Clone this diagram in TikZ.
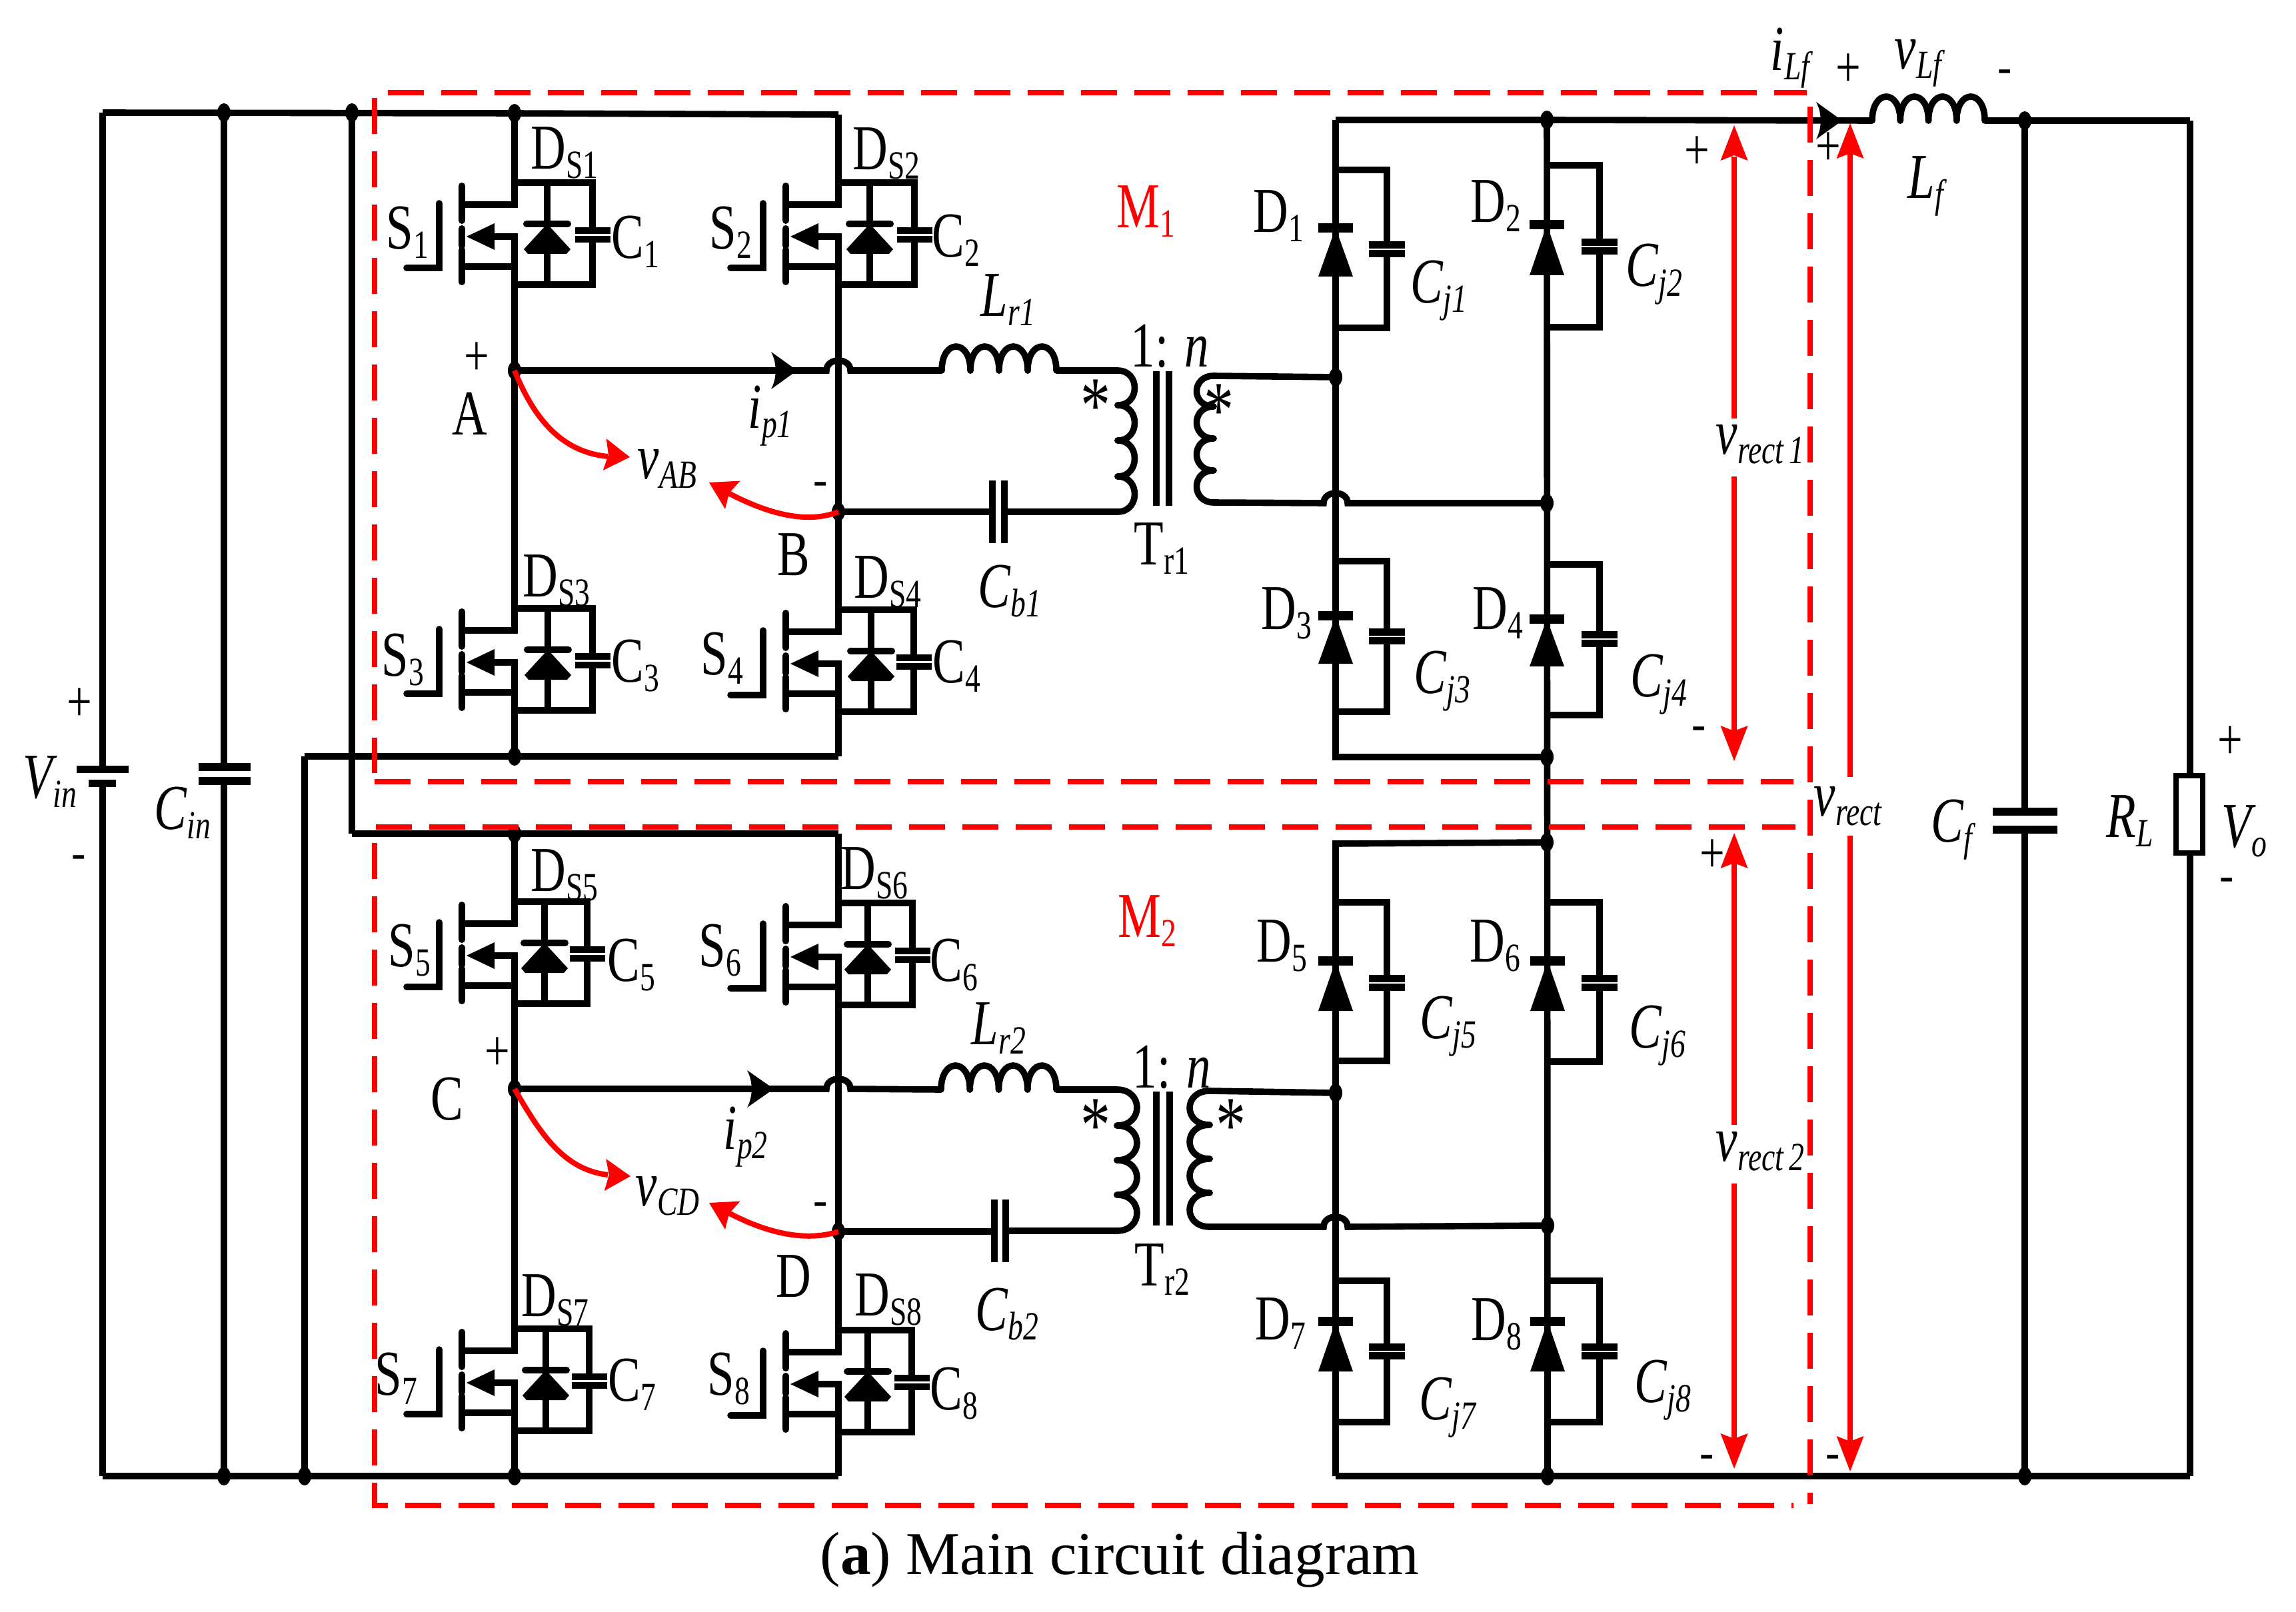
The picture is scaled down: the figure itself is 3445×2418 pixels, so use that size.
\documentclass[tikz,border=0pt]{standalone}
\usepackage{graphicx}
\usepackage{fontspec}
\setmainfont{Liberation Serif}
\usetikzlibrary{shapes.geometric}
\newcommand\RS[2]{\scalebox{.76}[1]{\fontsize{24}{24}\selectfont #1\raisebox{-3.5pt}{\fontsize{15}{15}\selectfont #2}}}
\newcommand\IS[2]{\scalebox{.76}[1]{\fontsize{24}{24}\selectfont\itshape #1\raisebox{-3.5pt}{\fontsize{15}{15}\selectfont #2}}}
\newcommand\PL{\scalebox{.76}[1]{\fontsize{22}{22}\selectfont +}}
\newcommand\MN{{\fontsize{16}{16}\selectfont\bfseries -}}
\newcommand\ST{\scalebox{.75}[1]{\fontsize{30}{30}\selectfont *}}
\tikzset{
  wire/.style={line width=2.4pt,black,line join=miter},
  heavy/.style={line width=2.7pt,black},
  plate/.style={line width=2.6pt,black},
  chan/.style={line width=2.5pt,black,line cap=round},
  core/.style={line width=2.3pt,black},
  coil/.style={line width=2.4pt,black,line cap=round},
  reddash/.style={line width=2pt,red,dash pattern=on 13.5pt off 6.5pt},
  redline/.style={line width=2pt,red},
  lbl/.style={anchor=base west,inner sep=0pt,outer sep=0pt,xshift=-0.8pt},
  sym/.style={anchor=base,inner sep=0pt,outer sep=0pt},
  dot/.style={ellipse,fill=black,draw=none,minimum width=5pt,minimum height=7pt,inner sep=0pt},
}
% MOSFET with body diode and capacitor: drain x, top y, diode dx, cap dx
\newcommand\Sw[4]{%
\begin{scope}[shift={(#1,#2)}]
\draw[wire] (0,0) -- (0,33) -- (-79,33);
\draw[wire] (-30,81) -- (0,81) -- (0,153);
\fill (-72,81) -- (-30,61) -- (-30,101) -- cycle;
\draw[wire] (-79,126) -- (0,126);
\draw[chan] (-79,5) -- (-79,57);
\draw[chan] (-79,69) -- (-79,95);
\draw[chan] (-79,101) -- (-79,149);
\draw[coil] (-162,128) -- (-113,128) -- (-113,31);
\draw[wire] (0,0) -- (#4,0) -- (#4,72);
\draw[wire] (#4,85) -- (#4,153) -- (0,153);
\draw[wire] (#3,0) -- (#3,153);
\draw[chan] ({#3-31},62) -- ({#3+31},62);
\fill (#3,62) -- ({#3+35},100) -- ({#3+29},107) -- ({#3-29},107) -- ({#3-35},100) -- cycle;
\draw[plate] ({#4-26.5},72) -- ({#4+26.5},72);
\draw[plate] ({#4-26.5},85) -- ({#4+26.5},85);
\end{scope}}
% rectifier diode: x, branch top, branch bottom, branch x, bar y, base y, cap y
\newcommand\Rd[7]{%
\draw[wire] (#1,#2) -- (#4,#2) -- (#4,{#7-6});
\draw[wire] (#4,{#7+6}) -- (#4,#3) -- (#1,#3);
\draw[line width=3.7pt] ({#1-26},#5) -- ({#1+26},#5);
\fill (#1,#5) -- ({#1+26},#6) -- ({#1-26},#6) -- cycle;
\draw[plate] ({#4-27},{#7-6.5}) -- ({#4+27},{#7-6.5});
\draw[plate] ({#4-27},{#7+6.5}) -- ({#4+27},{#7+6.5});
}
% inductor: start x, hump width, y
\newcommand\Ind[3]{\foreach \i in {0,1,2,3}
  \draw[coil] ({#1+\i*#2},#3) .. controls ({#1+\i*#2},{#3-48}) and ({#1+(\i+1)*#2},{#3-48}) .. ({#1+(\i+1)*#2},#3);}
% vertical winding: cusp x, bulge control x, five ys
\newcommand\Coil[7]{%
\draw[coil] (#1,#3) .. controls (#2,#3) and (#2,#4) .. (#1,#4);
\draw[coil] (#1,#4) .. controls (#2,#4) and (#2,#5) .. (#1,#5);
\draw[coil] (#1,#5) .. controls (#2,#5) and (#2,#6) .. (#1,#6);
\draw[coil] (#1,#6) .. controls (#2,#6) and (#2,#7) .. (#1,#7);}
% black current arrow: tip x, y, length, half height
\newcommand\Ha[4]{\fill (#1,#2) -- ({#1-#3},{#2-#4}) .. controls ({#1-#3+9},{#2-#4*.4}) and ({#1-#3+9},{#2+#4*.4}) .. ({#1-#3},{#2+#4}) -- cycle;}
% red head: tip x, y, angle, length, half width
\newcommand\RA[5]{\begin{scope}[shift={(#1,#2)},rotate=#3]
\fill[red] (0,0) -- ({-#4},{#5}) -- ({-.85*#4},0) -- ({-#4},{-#5}) -- cycle;
\end{scope}}
\begin{document}
\begin{tikzpicture}[x=0.25pt,y=-0.25pt]
\path[use as bounding box] (0,0) rectangle (3445,2418);
% junction dots
\node[dot] (t1) at (336,169) {};
\node[dot] (t2) at (528,169) {};
\node[dot] (t3) at (772,170) {};
\node[dot] (b1) at (336,2215) {};
\node[dot] (b2) at (457,2215) {};
\node[dot] (b3) at (772,2215) {};
\node[dot] (m1) at (772,1135) {};
\node[dot] (m2) at (772,1251) {};
\node[dot] (A) at (772,556) {};
\node[dot] (B) at (1258,768) {};
\node[dot] (C) at (772,1634) {};
\node[dot] (Dn) at (1258,1848) {};
\node[dot] (r1) at (2321,180) {};
\node[dot] (r2) at (2004,566) {};
\node[dot] (r3) at (2321,755) {};
\node[dot] (r4) at (2321,1136) {};
\node[dot] (r5) at (2321,1264) {};
\node[dot] (r6) at (2004,1640) {};
\node[dot] (r7) at (2322,1839) {};
\node[dot] (r8) at (2322,2215) {};
\node[dot] (o1) at (3038,181) {};
\node[dot] (o2) at (3038,2215) {};
% named corners
\coordinate (tl) at (154,169);
\coordinate (bl) at (154,2215);
\coordinate (tr) at (1258,172);
\coordinate (br) at (1258,2215);
\coordinate (m1r) at (1258,1135);
\coordinate (m2r) at (1258,1251);
\coordinate (m1l) at (457,1135);
\coordinate (m2l) at (528,1251);
\coordinate (rt) at (2004,180);
\coordinate (rb) at (2004,2215);
\coordinate (m1b) at (2004,1136);
\coordinate (m2t) at (2004,1266);
\coordinate (ort) at (3286,181);
\coordinate (orb) at (3286,2215);
% input rails
\draw[heavy] (tl) -- (bl |- 0,1154);
\draw[heavy] (bl |- 0,1175) -- (bl);
\draw[heavy] (t1.center) -- (336,1151);
\draw[heavy] (336,1172) -- (b1.center);
\draw[wire] (tl) -- (t3.center) -- (tr);
\draw[wire] (bl) -- (br);
\draw[heavy] (b2.center) -- (m1l);
\draw[wire] (m1l) -- (m1r);
\draw[heavy] (t2.center) -- (m2l);
\draw[wire] (m2l) -- (m2r);
% battery and Cin plates
\draw[line width=2.75pt] (115,1154) -- (193,1154);
\draw[line width=2.75pt] (133,1175) -- (174,1175);
\draw[line width=3pt] (298,1151) -- (376,1151);
\draw[line width=3pt] (298,1172) -- (376,1172);
% switches
\Sw{772}{274}{49}{117}
\Sw{1258}{274}{47}{114}
\Sw{772}{913}{50}{117}
\Sw{1258}{915}{49}{113}
\Sw{772}{1353}{45}{109}
\Sw{1258}{1355}{44}{111}
\Sw{772}{1994}{47}{112}
\Sw{1258}{1996}{44}{110}
% bridge legs
\draw[wire] (t3.center) -- (772,274);
\draw[wire] (772,427) -- (772,913);
\draw[wire] (772,1066) -- (m1.center);
\draw[wire] (tr) -- (1258,274);
\draw[wire] (1258,427) -- (1258,915);
\draw[wire] (1258,1068) -- (m1r);
\draw[wire] (m2.center) -- (772,1353);
\draw[wire] (772,1506) -- (772,1994);
\draw[wire] (772,2147) -- (b3.center);
\draw[wire] (m2r) -- (1258,1355);
\draw[wire] (1258,1508) -- (1258,1996);
\draw[wire] (1258,2149) -- (br);
% module 1 primary
\draw[wire] (A.center) -- (1240,556) .. controls (1240,536) and (1276,536) .. (1276,556) -- (1413,556);
\Ha{1196}{556}{39}{28}
\Ind{1413}{43}{556}
\draw[wire] (1585,556) -- (1677,556);
\Coil{1677}{1711}{556}{608}{661}{715}{768}
\draw[wire] (B.center) -- (1489,768);
\draw[wire] (1507,768) -- (1677,768);
\draw[core] (1489,721) -- (1489,815);
\draw[core] (1507,721) -- (1507,815);
\draw[core] (1735,557) -- (1735,759);
\draw[core] (1754,557) -- (1754,759);
\Coil{1821}{1787}{564}{610}{658}{706}{754}
\draw[wire] (1821,564) -- (r2.center);
\draw[wire] (1821,754) -- (1986,755) .. controls (1986,735) and (2022,735) .. (2022,755) -- (r3.center);
% module 2 primary
\draw[wire] (C.center) -- (1240,1634) .. controls (1240,1614) and (1276,1614) .. (1276,1634) -- (1412,1635);
\Ha{1161}{1634}{40}{28}
\Ind{1412}{43.25}{1635}
\draw[wire] (1585,1635) -- (1676,1635);
\Coil{1676}{1716}{1635}{1689}{1741}{1793}{1847}
\draw[wire] (Dn.center) -- (1492,1848);
\draw[wire] (1509,1847) -- (1676,1847);
\draw[core] (1492,1800) -- (1492,1894);
\draw[core] (1509,1800) -- (1509,1894);
\draw[core] (1735,1638) -- (1735,1839);
\draw[core] (1755,1638) -- (1755,1839);
\Coil{1815}{1775}{1637}{1688}{1739}{1790}{1841}
\draw[wire] (1815,1637) -- (r6.center);
\draw[wire] (1815,1841) -- (1986,1841) .. controls (1986,1821) and (2022,1821) .. (2022,1841) -- (r7.center);
% rectifier
\draw[wire] (rt) -- (m1b) -- (r4.center);
\draw[wire] (rt) -- (r1.center);
\draw[wire] (r1.center) -- (r8.center);
\draw[wire] (r5.center) -- (m2t) -- (rb);
\Rd{2004}{255}{492}{2081}{342}{415}{374}
\Rd{2321}{248}{491}{2400}{337}{413}{370}
\Rd{2004}{842}{1068}{2081}{924}{996}{955}
\Rd{2321}{847}{1073}{2400}{929}{1000}{959}
\Rd{2004}{1354}{1592}{2081}{1442}{1517}{1475}
\Rd{2322}{1354}{1593}{2400}{1442}{1517}{1475}
\Rd{2004}{1922}{2134}{2081}{1983}{2058}{2028}
\Rd{2322}{1922}{2134}{2400}{1983}{2058}{2028}
% output
\draw[wire] (r1.center) -- (2809,181);
\Ha{2764}{181}{39}{28}
\Ind{2809}{42.25}{181}
\draw[wire] (2978,181) -- (o1.center) -- (ort);
\draw[heavy] (o1.center) -- (3038,1218);
\draw[heavy] (3038,1245) -- (o2.center);
\draw[line width=3pt] (2990,1218) -- (3087,1218);
\draw[line width=3pt] (2990,1245) -- (3087,1245);
\draw[heavy] (ort) -- (3286,1164);
\draw[heavy] (3286,1280) -- (orb);
\draw[line width=1.9pt] (3265,1164) rectangle (3305,1280);
\draw[wire] (rb) -- (r8.center) -- (o2.center) -- (orb);
% red dashed frames
\draw[reddash] (582,139) -- (2711,139);
\draw[reddash] (562,147) -- (562,1160);
\draw[reddash] (562,1173) -- (2691,1173);
\draw[reddash] (564,1241) -- (2694,1241);
\draw[reddash] (562,1265) -- (562,2259) -- (2691,2259);
\draw[reddash] (2716,160) -- (2716,2257);
% red voltage arrows
\draw[redline] (2602,235) -- (2602,628);
\draw[redline] (2602,715) -- (2602,1100);
\RA{2602}{188}{90}{53}{20.5}
\RA{2602}{1142}{-90}{53}{20.5}
\draw[redline] (2602,1295) -- (2602,1688);
\draw[redline] (2602,1776) -- (2602,2160);
\RA{2602}{1250}{90}{53}{20.5}
\RA{2602}{2204}{-90}{53}{20.5}
\draw[redline] (2776,230) -- (2776,1166);
\draw[redline] (2776,1254) -- (2776,2165);
\RA{2776}{185}{90}{53}{20.5}
\RA{2776}{2208}{-90}{53}{20.5}
\draw[redline] (A.center) .. controls (800,625) and (840,678) .. (912,685);
\RA{945}{686}{-6}{38}{24}
\draw[redline] (B.center) .. controls (1215,785) and (1160,775) .. (1093,740);
\RA{1064}{724}{152}{40}{24}
\draw[redline] (C.center) .. controls (810,1700) and (845,1755) .. (912,1763);
\RA{946}{1765}{-3}{38}{24}
\draw[redline] (Dn.center) .. controls (1215,1862) and (1160,1855) .. (1093,1820);
\RA{1064}{1805}{152}{40}{24}
% switch labels
\node[lbl] (lds1) at (800,254) {\RS{D}{S1}};
\node[lbl] (ls1) at (583,374) {\RS{S}{1}};
\node[lbl] (lc1) at (921,388) {\RS{C}{1}};
\node[lbl] (lds2) at (1283,255) {\RS{D}{S2}};
\node[lbl] (ls2) at (1068,374) {\RS{S}{2}};
\node[lbl] (lc2) at (1402,386) {\RS{C}{2}};
\node[lbl] (lds3) at (788,895) {\RS{D}{S3}};
\node[lbl] (ls3) at (576,1014) {\RS{S}{3}};
\node[lbl] (lc3) at (921,1023) {\RS{C}{3}};
\node[lbl] (lds4) at (1285,897) {\RS{D}{S4}};
\node[lbl] (ls4) at (1055,1012) {\RS{S}{4}};
\node[lbl] (lc4) at (1403,1024) {\RS{C}{4}};
\node[lbl] (lds5) at (800,1337) {\RS{D}{S5}};
\node[lbl] (ls5) at (586,1450) {\RS{S}{5}};
\node[lbl] (lc5) at (915,1472) {\RS{C}{5}};
\node[lbl] (lds6) at (1265,1334) {\RS{D}{S6}};
\node[lbl] (ls6) at (1052,1450) {\RS{S}{6}};
\node[lbl] (lc6) at (1399,1472) {\RS{C}{6}};
\node[lbl] (lds7) at (786,1975) {\RS{D}{S7}};
\node[lbl] (ls7) at (566,2093) {\RS{S}{7}};
\node[lbl] (lc7) at (916,2102) {\RS{C}{7}};
\node[lbl] (lds8) at (1286,1974) {\RS{D}{S8}};
\node[lbl] (ls8) at (1065,2093) {\RS{S}{8}};
\node[lbl] (lc8) at (1399,2115) {\RS{C}{8}};
% node letters
\node[lbl] (lA) at (682,652) {\RS{A}{}};
\node[lbl] (lB) at (1170,863) {\RS{B}{}};
\node[lbl] (lC) at (650,1680) {\RS{C}{}};
\node[lbl] (lD) at (1168,1946) {\RS{D}{}};
\node[lbl] (lip1) at (1126,642) {\IS{i}{p1}};
\node[lbl] (lip2) at (1089,1724) {\IS{i}{p2}};
\node[lbl] (lvab) at (960,718) {\IS{v}{AB}};
\node[lbl] (lvcd) at (957,1809) {\IS{v}{CD}};
\node[lbl] (llr1) at (1475,474) {\IS{L}{r1}};
\node[lbl] (llr2) at (1461,1567) {\IS{L}{r2}};
\node[lbl] (lcb1) at (1471,911) {\IS{C}{b1}};
\node[lbl] (lcb2) at (1467,1996) {\IS{C}{b2}};
\node[lbl] (ln1) at (1700,550) {\scalebox{.76}[1]{\fontsize{24}{24}\selectfont 1: \textit{n}}};
\node[lbl] (ln2) at (1703,1632) {\scalebox{.76}[1]{\fontsize{24}{24}\selectfont 1: \textit{n}}};
\node[lbl] (ltr1) at (1705,847) {\RS{T}{r1}};
\node[lbl] (ltr2) at (1706,1929) {\RS{T}{r2}};
\node[sym] (st1) at (1644,648) {\ST};
\node[sym] (st2) at (1829,655) {\ST};
\node[sym] (st3) at (1644,1728) {\ST};
\node[sym] (st4) at (1847,1728) {\ST};
% rectifier labels
\node[lbl] (ld1) at (1884,349) {\RS{D}{1}};
\node[lbl] (ld2) at (2210,334) {\RS{D}{2}};
\node[lbl] (ld3) at (1896,944) {\RS{D}{3}};
\node[lbl] (ld4) at (2213,944) {\RS{D}{4}};
\node[lbl] (ld5) at (1889,1443) {\RS{D}{5}};
\node[lbl] (ld6) at (2209,1443) {\RS{D}{6}};
\node[lbl] (ld7) at (1887,2010) {\RS{D}{7}};
\node[lbl] (ld8) at (2211,2011) {\RS{D}{8}};
\node[lbl] (lcj1) at (2120,455) {\IS{C}{j1}};
\node[lbl] (lcj2) at (2443,430) {\IS{C}{j2}};
\node[lbl] (lcj3) at (2125,1040) {\IS{C}{j3}};
\node[lbl] (lcj4) at (2450,1045) {\IS{C}{j4}};
\node[lbl] (lcj5) at (2134,1558) {\IS{C}{j5}};
\node[lbl] (lcj6) at (2448,1572) {\IS{C}{j6}};
\node[lbl] (lcj7) at (2133,2130) {\IS{C}{j7}};
\node[lbl] (lcj8) at (2456,2104) {\IS{C}{j8}};
\node[lbl] (lvr1) at (2578,681) {\IS{v}{rect\,1}};
\node[lbl] (lvr2) at (2578,1742) {\IS{v}{rect\,2}};
\node[lbl] (lvr) at (2725,1224) {\IS{v}{rect}};
% output labels
\node[lbl] (lilf) at (2660,106) {\IS{i}{Lf}};
\node[lbl] (lvlf) at (2846,104) {\IS{v}{Lf}};
\node[lbl] (llf) at (2866,298) {\IS{L}{f}};
\node[lbl] (lcf) at (2901,1263) {\IS{C}{f}};
\node[lbl] (lrl) at (3164,1256) {\IS{R}{L}};
\node[lbl] (lvo) at (3337,1271) {\IS{V}{o}};
\node[lbl] (lvin) at (38,1197) {\IS{V}{in}};
\node[lbl] (lcin) at (235,1244) {\IS{C}{in}};
\node[lbl,text=red] (lm1) at (1679,342) {\RS{M}{1}};
\node[lbl,text=red] (lm2) at (1681,1406) {\RS{M}{2}};
% polarity marks
\node[sym] (p1) at (119,1082) {\PL};
\node[sym] (p2) at (715,563) {\PL};
\node[sym] (p3) at (746,1606) {\PL};
\node[sym] (p4) at (2546,255) {\PL};
\node[sym] (p5) at (2743,249) {\PL};
\node[sym] (p6) at (2773,131) {\PL};
\node[sym] (p7) at (2569,1309) {\PL};
\node[sym] (p8) at (3346,1139) {\PL};
\node[sym] (n1) at (118,1301) {\MN};
\node[sym] (n2) at (1231,741) {\MN};
\node[sym] (n3) at (1231,1822) {\MN};
\node[sym] (n4) at (3008,123) {\MN};
\node[sym] (n5) at (2549,1108) {\MN};
\node[sym] (n6) at (2561,2201) {\MN};
\node[sym] (n7) at (2750,2201) {\MN};
\node[sym] (n8) at (3341,1335) {\MN};
% caption
\node[anchor=base west,inner sep=0pt] (cap) at (1230,2362) {\fontsize{22.8}{22.8}\selectfont (\textbf{a}) Main circuit diagram};
\end{tikzpicture}
\end{document}
